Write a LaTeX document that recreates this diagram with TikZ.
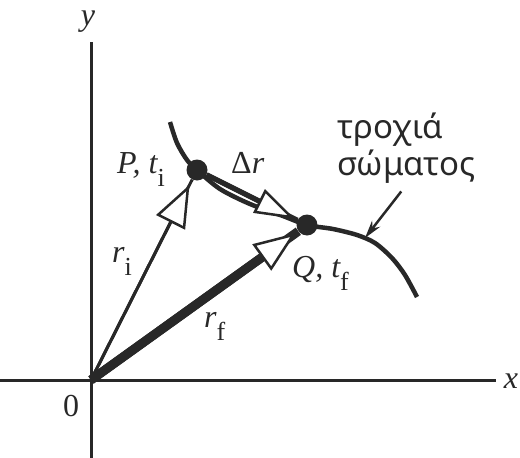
\documentclass[tikz,border=0pt]{standalone}
\usepackage{fontspec}
\setmainfont{Liberation Serif}
\newfontfamily\greekfont{Noto Sans}
\usetikzlibrary{arrows.meta,positioning,calc}
\definecolor{inkgray}{RGB}{40,40,40}

\newcommand{\lowidx}[1]{\raisebox{-0.9ex}{\fontsize{26}{26}\selectfont\upshape #1}}

\tikzset{
  axisline/.style={line width=3pt, draw=inkgray},
  pathline/.style={line width=4.5pt, draw=inkgray},
  pointdot/.style={circle, fill=inkgray, minimum size=21pt, inner sep=0pt},
  thinvec/.style={line width=3pt, draw=inkgray},
  midvec/.style={line width=5pt, draw=inkgray},
  thickvec/.style={line width=9pt, draw=inkgray},
  hollowtip/.style 2 args={-{Triangle[length=#1, width=#2, fill=white, line width=2.5pt]}},
  pointer/.style={line width=2.5pt, draw=inkgray, -{Stealth[length=18pt, width=10pt]}},
  lbl/.style={font=\fontsize{32}{34}\selectfont\itshape, text=inkgray, inner sep=0pt},
}

\begin{document}
\begin{tikzpicture}[x=1pt, y=-1pt]
\useasboundingbox (0,0) rectangle (520,458);

% axes
\coordinate (O) at (91,380);
\coordinate (xa) at (0,380);
\coordinate (xb) at (496,380);
\coordinate (ya) at (91,42);
\coordinate (yb) at (91,458);
\draw[axisline] (xa) -- (xb);
\draw[axisline] (ya) -- (yb);
\node[lbl] (xlabel) at (511,381) {x};
\node[lbl] (ylabel) at (88,22) {y};
\node[lbl, font=\fontsize{32}{34}\selectfont] (olabel) at (71,406) {0};

% trajectory
\draw[pathline] plot[smooth, tension=0.5] coordinates {(170,122) (177,143) (187,160) (197,170) (220,189) (250,204) (283,216) (307,225) (333,229) (357,235) (375,243) (392,258) (405,275) (417,297)};
\node[pointdot] (P) at (197,170) {};
\node[pointdot] (Q) at (307,225) {};
\coordinate (hit) at (365,238);

% vectors
\draw[thinvec] (O) -- (P);
\draw[thinvec, hollowtip={42pt}{32pt}, shorten >=6pt] (O) -- (P);
\draw[thickvec] (O) -- (Q);
\draw[thickvec, hollowtip={42pt}{32pt}, shorten >=3pt] (O) -- (Q);
\draw[midvec] (P) -- (Q);
\draw[midvec, hollowtip={40pt}{26pt}, shorten >=3pt] (P) -- (Q);

% labels
\node[lbl, anchor=base west] (plabel) at (117,173) {P, t\lowidx{i}};
\node[lbl, anchor=base west] (dlabel) at (231,173) {{\upshape Δ}r};
\node[lbl, anchor=base west] (qlabel) at (292,277) {Q, t\lowidx{f}};
\node[lbl, anchor=base west] (rilabel) at (112,262) {r\lowidx{i}};
\node[lbl, anchor=base west] (rflabel) at (204,327) {r\lowidx{f}};

\node[font=\greekfont\fontsize{33}{37}\selectfont, text=inkgray, align=left, inner sep=0pt, anchor=west] (traj) at (337,148) {τροχιά\\σώματος};
\draw[pointer] ([shift={(-5pt,-8pt)}]traj.south) -- (hit);
\end{tikzpicture}
\end{document}
